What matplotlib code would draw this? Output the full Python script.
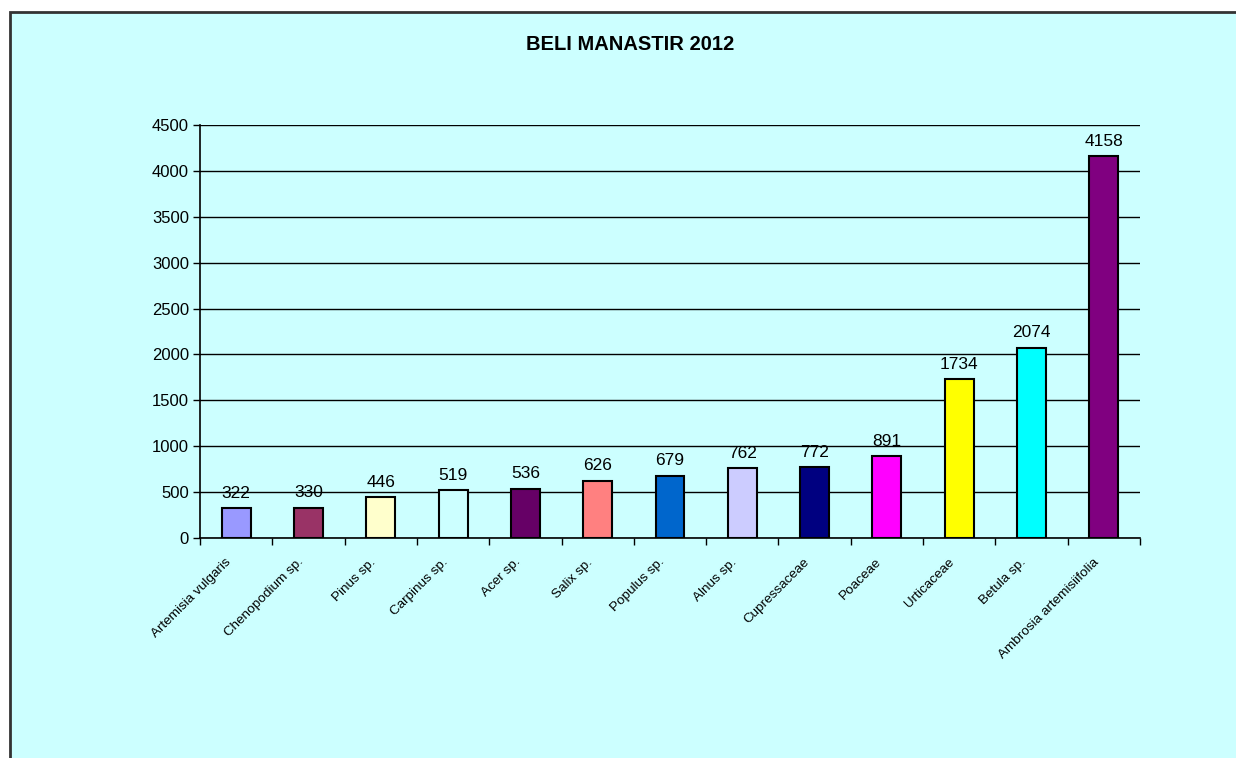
import matplotlib.pyplot as plt
from matplotlib.patches import Rectangle

taxa = ["Artemisia vulgaris", "Chenopodium sp.", "Pinus sp.", "Carpinus sp.",
        "Acer sp.", "Salix sp.", "Populus sp.", "Alnus sp.", "Cupressaceae",
        "Poaceae", "Urticaceae", "Betula sp.", "Ambrosia artemisiifolia"]
counts = [322, 330, 446, 519, 536, 626, 679, 762, 772, 891, 1734, 2074, 4158]
colors = ["#9999FF", "#993366", "#FFFFCC", "#CCFFFF", "#660066", "#FF8080",
          "#0066CC", "#CCCCFF", "#000080", "#FF00FF", "#FFFF00", "#00FFFF",
          "#800080"]
yticks = [0, 500, 1000, 1500, 2000, 2500, 3000, 3500, 4000, 4500]

plt.rcParams["font.family"] = ["Liberation Sans", "DejaVu Sans"]

bg = "#CCFFFF"
fig = plt.figure(figsize=(12.36, 7.58), dpi=100)
fig.patch.set_facecolor("white")

# chart area frame (only top and left edges fall inside the image)
fig.patches.append(Rectangle((9.5, -50), 1400, 758 - 11.5 + 50, transform=None,
                             facecolor=bg, edgecolor="#333333", linewidth=2,
                             zorder=-10))

ax = fig.add_axes([200 / 1236, 1 - 538 / 758, 940 / 1236, 413 / 758])
ax.set_facecolor("none")

x = range(len(taxa))
ax.bar(x, counts, width=0.4, color=colors, edgecolor="black", linewidth=1.5,
       zorder=3)
for i, v in enumerate(counts):
    ax.text(i, v + 80, str(v), ha="center", va="bottom", fontsize=12.5,
            color="black", zorder=4)

ax.set_xlim(-0.5, len(taxa) - 0.5)
ax.set_ylim(0, 4500)
ax.set_yticks(yticks)
ax.tick_params(axis="y", labelsize=12, length=5, width=1, pad=3)
ax.yaxis.grid(True, color="black", linewidth=1)
ax.set_axisbelow(True)

# category boundary ticks below the axis
ax.set_xticks([i - 0.5 for i in range(len(taxa) + 1)])
ax.set_xticklabels([])
ax.tick_params(axis="x", length=5, width=1, direction="out")
for i, name in enumerate(taxa):
    ax.annotate(name, xy=(i, 0), xytext=(-5, -16), textcoords="offset points",
                rotation=45, rotation_mode="anchor", ha="right", va="center",
                fontsize=9.7, annotation_clip=False)

for s in ("top", "right"):
    ax.spines[s].set_visible(False)
for s in ("left", "bottom"):
    ax.spines[s].set_linewidth(1.2)

fig.text(630 / 1236, 1 - 45 / 758, "BELI MANASTIR 2012", ha="center",
         va="center", fontsize=14.5, fontweight="bold")

fig.savefig("out.png", dpi=100, facecolor=fig.get_facecolor())
